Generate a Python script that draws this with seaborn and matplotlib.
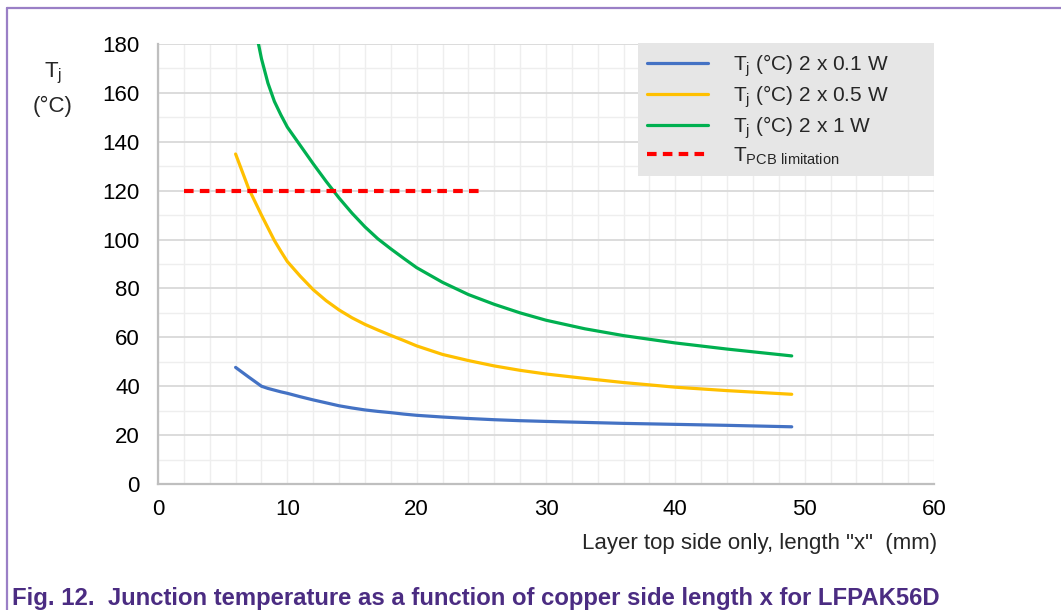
import matplotlib
matplotlib.use("Agg")
import matplotlib.pyplot as plt
from matplotlib.lines import Line2D
from matplotlib.ticker import MultipleLocator
import seaborn as sns
import pandas as pd

# ---- data ----
x_vals = [6, 7, 8, 8.5, 9, 9.5, 10, 11, 12, 13, 14, 15, 16, 17, 18, 19, 20,
          22, 24, 26, 28, 30, 33, 36, 40, 44, 49]
tj_01w = [47.7, 43.8, 40.0, 39.1, 38.4, 37.7, 37.1, 35.7, 34.4, 33.2, 32.0, 31.1, 30.3, 29.7, 29.2, 28.6, 28.1,
          27.4, 26.8, 26.3, 25.9, 25.6, 25.2, 24.8, 24.4, 24.0, 23.4]
tj_05w = [135.0, 121.0, 110.0, 104.8, 99.6, 95.2, 91.0, 85.0, 79.5, 75.0, 71.2, 68.0, 65.3, 63.0, 60.8, 58.7, 56.5,
          53.0, 50.5, 48.3, 46.5, 45.0, 43.2, 41.5, 39.6, 38.2, 36.7]
tj_1w = [228.0, 200.0, 174.0, 164.0, 156.5, 151.0, 146.0, 138.5, 131.0, 123.8, 117.0, 110.8, 105.2, 100.3, 96.2,
         92.3, 88.5, 82.5, 77.5, 73.5, 70.0, 67.0, 63.5, 60.7, 57.7, 55.2, 52.4]
pcb_x = [2, 25]
pcb_y = [120, 120]

labels = [r"T$_\mathregular{j}$ (°C) 2 x 0.1 W",
          r"T$_\mathregular{j}$ (°C) 2 x 0.5 W",
          r"T$_\mathregular{j}$ (°C) 2 x 1 W",
          r"T$_\mathregular{PCB\ limitation}$"]
colors = ["#4472C4", "#FFC000", "#00B050", "#FF0000"]
x_ticks = [0, 10, 20, 30, 40, 50, 60]
y_ticks = [0, 20, 40, 60, 80, 100, 120, 140, 160, 180]

sns.set_style("white")
plt.rcParams["font.family"] = ["Liberation Sans", "DejaVu Sans"]

W, H = 1061, 610
fig = plt.figure(figsize=(W / 100, H / 100), dpi=100)
L, R, T, B = 158, 934, 44, 484
ax = fig.add_axes([L / W, 1 - B / H, (R - L) / W, (B - T) / H])

df = pd.concat([
    pd.DataFrame({"x": x_vals, "y": tj_01w, "s": labels[0]}),
    pd.DataFrame({"x": x_vals, "y": tj_05w, "s": labels[1]}),
    pd.DataFrame({"x": x_vals, "y": tj_1w, "s": labels[2]}),
])
pal = dict(zip(labels[:3], colors[:3]))
sns.lineplot(data=df, x="x", y="y", hue="s", palette=pal, linewidth=2.3,
             ax=ax, legend=False, zorder=3)
for ln in ax.get_lines():
    ln.set_solid_joinstyle("round")
    ln.set_solid_capstyle("round")
sns.lineplot(x=pcb_x, y=pcb_y, color=colors[3], linewidth=3.0, ax=ax,
             legend=False, zorder=4, dashes=False)
red = ax.get_lines()[-1]
red.set_dashes([2.3, 1.5])
red.set_dash_capstyle("butt")

ax.set_xlim(0, 60)
ax.set_ylim(0, 180)
ax.set_xticks(x_ticks)
ax.set_yticks(y_ticks)
ax.xaxis.set_minor_locator(MultipleLocator(2))
ax.yaxis.set_minor_locator(MultipleLocator(10))
ax.grid(which="minor", color="#EEEEEE", linewidth=1.0, zorder=0)
ax.grid(which="major", axis="y", color="#D9D9D9", linewidth=1.3, zorder=0)
ax.grid(which="major", axis="x", color="#EEEEEE", linewidth=1.0, zorder=0)
ax.set_axisbelow(True)
ax.tick_params(which="both", length=0, labelsize=16, colors="#000000")
ax.tick_params(axis="y", pad=13)
ax.tick_params(axis="x", pad=11)
ax.set_xlabel("")
ax.set_ylabel("")
for s in ["top", "right"]:
    ax.spines[s].set_visible(False)
for s in ["left", "bottom"]:
    ax.spines[s].set_color("#BFBFBF")
    ax.spines[s].set_linewidth(1.6)

handles = [Line2D([], [], color=c, lw=2.3) for c in colors[:3]]
handles.append(Line2D([], [], color=colors[3], lw=3.0, dashes=[2.3, 1.5]))
x0 = (638 - L) / (R - L)
leg = ax.legend(handles, labels, loc="upper left", mode="expand",
                bbox_to_anchor=(x0, 0, 1 - x0, (B - 42.7) / (B - T)),
                borderaxespad=0, fontsize=15, handlelength=2.9,
                handletextpad=1.2, labelspacing=0.2, borderpad=0.45,
                frameon=True, fancybox=False, facecolor="#E6E6E6",
                edgecolor="none", framealpha=1)
leg.set_zorder(5)

fig.text(53 / W, 1 - 73 / H, r"T$_\mathregular{j}$", ha="center", va="center", fontsize=16)
fig.text(53 / W, 1 - 106 / H, "(°C)", ha="center", va="center", fontsize=16)
fig.text(937 / W, 1 - 543 / H, 'Layer top side only, length "x"  (mm)',
         ha="right", va="center", fontsize=16)
fig.text(12 / W, 1 - 599 / H,
         "Fig. 12.  Junction temperature as a function of copper side length x for LFPAK56D",
         ha="left", va="center", fontsize=17.2, fontweight="bold",
         family=["Liberation Sans Narrow", "Liberation Sans", "DejaVu Sans"],
         color="#4B2C82")

border = "#9A7FC6"
fig.add_artist(Line2D([7 / W, 1], [1 - 8 / H, 1 - 8 / H], color=border, lw=1.6,
                      transform=fig.transFigure))
fig.add_artist(Line2D([7 / W, 7 / W], [0, 1 - 8 / H], color=border, lw=1.6,
                      transform=fig.transFigure))

fig.savefig("out.png", dpi=100)
